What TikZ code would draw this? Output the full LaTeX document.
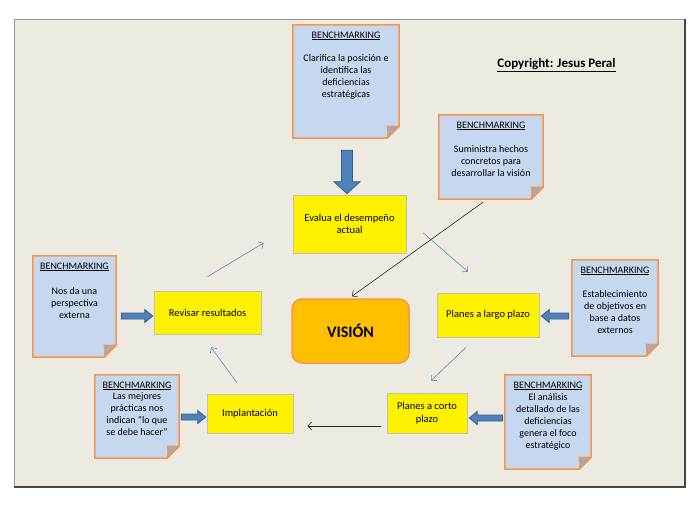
\documentclass[tikz,border=0pt]{standalone}
\usepackage{fontspec}
\setmainfont{Carlito}
\usetikzlibrary{calc,arrows.meta}
\definecolor{bgc}{RGB}{237,235,225}
\definecolor{framegray}{RGB}{150,150,150}
\definecolor{framedark}{RGB}{70,70,70}
\definecolor{notefillc}{RGB}{198,216,240}
\definecolor{noteline}{RGB}{247,150,70}
\definecolor{flapc}{RGB}{165,170,185}
\definecolor{ybord}{RGB}{195,195,170}
\definecolor{visfill}{RGB}{255,192,0}
\definecolor{fatfill}{RGB}{79,129,189}
\definecolor{fatline}{RGB}{56,93,138}
\definecolor{thinblue}{RGB}{90,140,195}
\tikzset{
  notebg/.style={draw=none, inner sep=0pt},
  noteshape/.style={fill=notefillc, draw=noteline, line width=1.5pt, line join=miter},
  noteflap/.style={fill=flapc, draw=noteline, line width=1.2pt, line join=round},
  notetext/.style={inner sep=0pt, align=center, font=\fontsize{10}{12}\selectfont},
  ybox/.style={fill=yellow, draw=ybord, line width=0.6pt, inner sep=2pt, align=center, font=\fontsize{10.5}{12.5}\selectfont},
  visbox/.style={fill=visfill, draw=noteline, line width=1.5pt, rounded corners=10pt, font=\fontsize{16}{18}\selectfont\bfseries},
  fat/.style={fill=fatfill, draw=fatline, line width=0.8pt, line join=miter},
  thinarrow/.style={draw=thinblue, line width=0.6pt, -{Straight Barb[length=4pt,width=8pt]}},
  blackarrow/.style={draw=black!85, line width=0.6pt, -{Straight Barb[length=4pt,width=8pt]}}
}
\newcommand\notebox[5]{%
  \node[notebg, minimum width=#3pt, minimum height=#4pt] (#1) at #2 {};
  \filldraw[noteshape] (#1.north west) -- (#1.north east) -- ([yshift=12pt]#1.south east) -- ([xshift=-12pt]#1.south east) -- (#1.south west) -- cycle;
  \filldraw[noteflap] ([yshift=12pt]#1.south east) -- ([xshift=-12pt]#1.south east) .. controls ([xshift=-11pt,yshift=5pt]#1.south east) .. ([xshift=-12pt,yshift=12pt]#1.south east) -- cycle;
  \node[notetext, anchor=north] (#1t) at ([yshift=-4.6pt]#1.north) {#5};
}
\newcommand\fatarrow[5]{%
  \filldraw[fat] let \p1=#1, \p2=#2, \n1={atan2(\y2-\y1,\x2-\x1)}, \n2={veclen(\x2-\x1,\y2-\y1)} in
    [shift={(\p1)}, rotate=\n1] (0pt,-#3pt) -- (\n2-#5pt,-#3pt) -- (\n2-#5pt,-#4pt) -- (\n2,0pt) -- (\n2-#5pt,#4pt) -- (\n2-#5pt,#3pt) -- (0pt,#3pt) -- cycle;
}
\begin{document}
\begin{tikzpicture}[x=1pt,y=-1pt]
\useasboundingbox (0,0) rectangle (700,525);
\fill[white] (0,0) rectangle (700,525);
\filldraw[fill=bgc, draw=framegray, line width=0.8pt] (14,19) rectangle (685,487);
\draw[framedark, line width=1.5pt] (14,487) -- (685,487) -- (685,19);

% notes
\notebox{n1}{(346,81.5)}{106}{113}{\strut\underline{BENCHMARKING}\\[11pt] Clarifica la posición e\\ identifica las\\ deficiencias\\ estratégicas}
\notebox{n2}{(491,157)}{104}{84}{\strut\underline{BENCHMARKING}\\[12pt] Suministra hechos\\ concretos para\\ desarrollar la visión}
\notebox{n3}{(74.5,306.5)}{83}{101}{\strut\underline{BENCHMARKING}\\[13pt] Nos da una\\ perspectiva\\ externa}
\notebox{n4}{(615,308)}{86}{96}{\strut\underline{BENCHMARKING}\\[12pt] Establecimiento\\ de objetivos en\\ base a datos\\ externos}
\notebox{n5}{(137,416.5)}{84}{83}{\strut\underline{BENCHMARKING}\\[-1pt] Las mejores\\ prácticas nos\\ indican "lo que\\ se debe hacer"}
\notebox{n6}{(548,422)}{86}{94}{\strut\underline{BENCHMARKING}\\ El análisis\\ detallado de las\\ deficiencias\\ genera el foco\\ estratégico}

% process boxes
\node[ybox, minimum width=113pt, minimum height=58pt] (evalua) at (349.5,224) {Evalua el desempeño\\ actual};
\node[ybox, minimum width=107pt, minimum height=43pt] (revisar) at (207.5,312.5) {Revisar resultados};
\node[ybox, minimum width=102pt, minimum height=44pt] (largo) at (488,315) {Planes a largo plazo};
\node[ybox, minimum width=80pt, minimum height=40pt] (corto) at (427,413) {Planes a corto\\ plazo};
\node[ybox, minimum width=86pt, minimum height=39pt] (implant) at (250,413.5) {Implantación};
\node[visbox, minimum width=117pt, minimum height=64pt] (vision) at (350.5,331) {VISIÓN};

\node[font=\fontsize{13}{15}\selectfont\bfseries, inner sep=0pt] (copy) at (556.5,65) {\underline{Copyright: Jesus Peral}};

% fat arrows
\fatarrow{($(n1.south)+(1,12)$)}{($(evalua.north)+(-2.5,-1)$)}{5.5}{13}{12}
\fatarrow{($(n3.east)+(5,9.5)$)}{($(revisar.west)+(-1,3.5)$)}{3}{6.5}{8}
\fatarrow{($(n4.west)+(-3,8)$)}{($(largo.east)+(2,1)$)}{3}{6.5}{8}
\fatarrow{($(n5.east)+(2,0.5)$)}{($(implant.west)+(-1,3.5)$)}{3}{6.5}{8}
\fatarrow{($(n6.west)+(-2,-4)$)}{($(corto.east)+(2,5)$)}{3}{6.5}{8}

% thin arrows
\draw[thinarrow] ($(revisar.north)+(0,-14)$) -- ($(evalua.west)+(-29,19)$);
\draw[thinarrow] ($(evalua.east)+(17,9)$) -- ($(largo.north)+(-20,-21)$);
\draw[thinarrow] ($(largo.south)+(-22,10)$) -- ($(corto.north)+(4,-12)$);
\draw[blackarrow] ($(corto.west)+(-6,13)$) -- ($(implant.east)+(14,12.5)$);
\draw[thinarrow] ($(implant.north)+(-13,-11)$) -- ($(revisar.south)+(3.5,13)$);
\draw[blackarrow] ($(n2.south)+(-8,3)$) -- ($(vision.north)+(1.5,-2)$);
\end{tikzpicture}
\end{document}
